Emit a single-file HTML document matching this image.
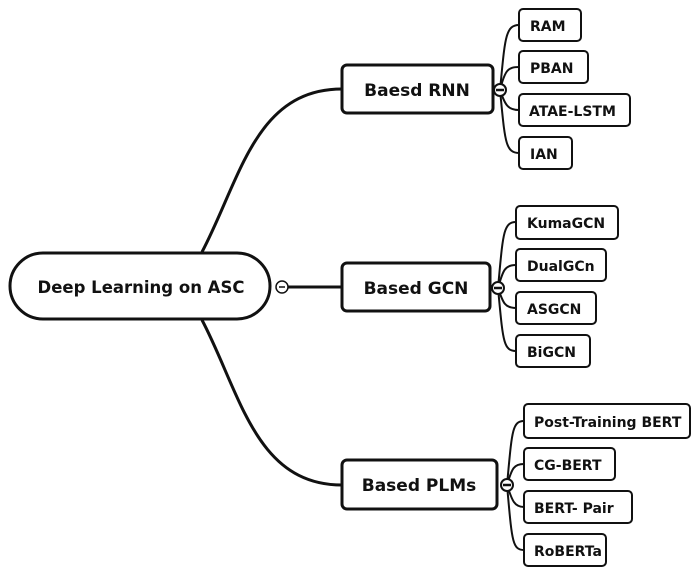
<!DOCTYPE html>
<html><head><meta charset="utf-8"><style>
html,body{margin:0;padding:0;background:#fff;}
svg text{font-family:"DejaVu Sans","Liberation Sans",sans-serif;font-weight:bold;fill:#111;}
</style></head><body>
<svg width="700" height="576" viewBox="0 0 700 576" xmlns="http://www.w3.org/2000/svg">
<g fill="none" stroke="#111" stroke-width="3">
<path d="M202,252 C240,180 255,89 342,89"/>
<path d="M202,320 C240,392 255,485 342,485"/>
<line x1="288" y1="287" x2="342" y2="287"/>
</g>
<g fill="none" stroke="#111" stroke-width="2">
<path d="M500,90 C505,40 505,25 519,25"/>
<path d="M500,90 C505,70 508,67 519,67"/>
<path d="M500,90 C505,105 508,110 519,110"/>
<path d="M500,90 C505,140 505,153 519,153"/>
<path d="M498,288 C503,235 503,222 516,222"/>
<path d="M498,288 C503,270 505,265 516,265"/>
<path d="M498,288 C503,303 505,308 516,308"/>
<path d="M498,288 C503,340 503,351 516,351"/>
<path d="M507,485 C512,432 512,421 524,421"/>
<path d="M507,485 C512,468 514,464 524,464"/>
<path d="M507,485 C512,500 514,507 524,507"/>
<path d="M507,485 C512,540 512,550 524,550"/>
</g>
<rect x="10" y="253" width="260" height="66" rx="33" fill="#fff" stroke="#111" stroke-width="3"/>
<text x="141" y="293" text-anchor="middle" font-size="16.5">Deep Learning on ASC</text>
<circle cx="282" cy="287" r="6" fill="#fff" stroke="#111" stroke-width="1.5"/><line x1="279" y1="287" x2="285" y2="287" stroke="#111" stroke-width="1.5"/>
<g fill="#fff" stroke="#111" stroke-width="3">
<rect x="342" y="65" width="151" height="48" rx="5"/>
<rect x="342" y="263" width="148" height="48" rx="5"/>
<rect x="342" y="460" width="155" height="49" rx="5"/>
</g>
<text x="417" y="96" text-anchor="middle" font-size="17">Baesd RNN</text>
<text x="416" y="294" text-anchor="middle" font-size="17">Based GCN</text>
<text x="419" y="491" text-anchor="middle" font-size="17">Based PLMs</text>
<g fill="#fff" stroke="#111" stroke-width="2">
<circle cx="500" cy="90" r="6"/><circle cx="498" cy="288" r="6"/><circle cx="507" cy="485" r="6"/>
</g>
<g stroke="#111" stroke-width="2.5">
<line x1="496" y1="90" x2="504" y2="90"/><line x1="494" y1="288" x2="502" y2="288"/><line x1="503" y1="485" x2="511" y2="485"/>
</g>
<g fill="#fff" stroke="#111" stroke-width="2">
<rect x="519" y="9" width="62" height="32" rx="4"/>
<rect x="519" y="51" width="69" height="32" rx="4"/>
<rect x="519" y="94" width="111" height="32" rx="4"/>
<rect x="519" y="137" width="53" height="32" rx="4"/>
<rect x="516" y="206" width="102" height="33" rx="4"/>
<rect x="516" y="249" width="90" height="32" rx="4"/>
<rect x="516" y="292" width="80" height="32" rx="4"/>
<rect x="516" y="335" width="74" height="32" rx="4"/>
<rect x="524" y="404" width="166" height="34" rx="4"/>
<rect x="524" y="448" width="91" height="32" rx="4"/>
<rect x="524" y="491" width="108" height="32" rx="4"/>
<rect x="524" y="534" width="82" height="32" rx="4"/>
</g>
<g font-size="14">
<text x="530" y="31">RAM</text>
<text x="530" y="73">PBAN</text>
<text x="529" y="116">ATAE-LSTM</text>
<text x="530" y="159">IAN</text>
<text x="527" y="228">KumaGCN</text>
<text x="527" y="271">DualGCn</text>
<text x="527" y="314">ASGCN</text>
<text x="527" y="357">BiGCN</text>
<text x="534" y="427">Post-Training BERT</text>
<text x="534" y="470">CG-BERT</text>
<text x="534" y="513">BERT- Pair</text>
<text x="534" y="556">RoBERTa</text>
</g>
</svg>
</body></html>
